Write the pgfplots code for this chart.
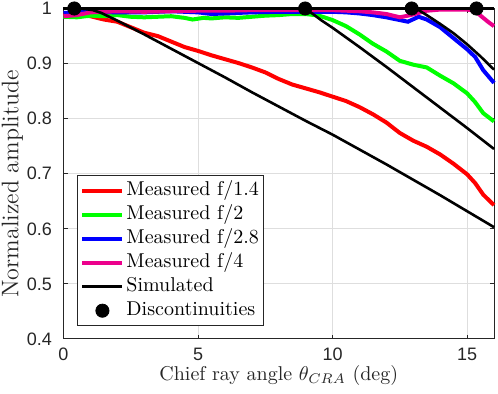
\documentclass[border=0pt]{standalone}
\usepackage{fontspec}
\usepackage{pgfplots}
\pgfplotsset{compat=1.18}
\newfontfamily\ticksans{Liberation Sans}
\definecolor{axgray}{rgb}{0.15,0.15,0.15}
\definecolor{gridgray}{rgb}{0.87,0.87,0.87}
\begin{document}
\begin{tikzpicture}
\begin{axis}[
  scale only axis, width=215.25pt, height=165.25pt,
  xmin=0, xmax=16, ymin=0.4, ymax=1,
  xtick={0,5,10,15}, xticklabels={0,5,10,15},
  ytick={0.4,0.5,0.6,0.7,0.8,0.9,1}, yticklabels={0.4,0.5,0.6,0.7,0.8,0.9,1},
  tick label style={font=\ticksans\fontsize{9}{10}\selectfont, text=axgray},
  yticklabel style={xshift=-2.3pt},
  xticklabel style={yshift=-2.5pt, inner sep=2pt},
  tick align=inside, major tick length=2.2pt,
  axis line style={axgray, line width=0.5pt},
  every tick/.style={axgray, line width=0.5pt},
  grid=major, major grid style={gridgray, line width=0.5pt},
  xlabel={Chief ray angle $\theta_{CRA}$ (deg)},
  ylabel={Normalized amplitude},
  xlabel style={at={([yshift=-21pt]axis description cs:0.5,0)}, anchor=base, text=axgray, inner sep=1pt},
  ylabel style={at={([xshift=-22.5pt,yshift=-5pt]axis description cs:0,0.5)}, anchor=base, text=axgray, font=\fontsize{12}{14}\selectfont},
  clip=false,
  legend cell align=left,
  legend style={at={(axis description cs:0.0314,0.039)}, anchor=south west,
    draw=axgray, fill=white, font=\fontsize{10}{12}\selectfont,
    row sep=0pt, inner sep=1.5pt,
    nodes={inner sep=1pt, text height=7.5pt, text depth=2.5pt}},
  legend image code/.code={\draw[mark repeat=2,mark phase=2,#1] plot coordinates {(0pt,0pt) (10pt,0pt) (20pt,0pt)};},
]
\coordinate (BL) at (rel axis cs:0,0);
\coordinate (TR) at (rel axis cs:1,1);

\addplot[red, line width=2pt] coordinates {
(0,0.991) (0.5,0.989) (1.0,0.986) (1.5,0.980) (2.0,0.976) (2.5,0.966)
(3.0,0.956) (3.5,0.950) (4.0,0.940) (4.5,0.930) (5.0,0.923) (5.5,0.915)
(6.0,0.908) (6.5,0.901) (7.0,0.893) (7.5,0.884) (8.0,0.872) (8.5,0.862)
(9.0,0.855) (9.5,0.848) (10.0,0.840) (10.5,0.832) (11.0,0.821) (11.5,0.808)
(12.0,0.793) (12.5,0.774) (13.0,0.760) (13.5,0.749) (14.0,0.735) (14.5,0.718)
(15.0,0.699) (15.3,0.683) (15.6,0.662) (16.0,0.643)};
\addlegendentry{Measured f/1.4}

\addplot[green, line width=2pt] coordinates {
(0,0.985) (0.5,0.984) (1,0.987) (1.5,0.986) (2,0.988) (2.5,0.985) (3,0.984)
(3.5,0.985) (4,0.986) (4.5,0.983) (4.8,0.980) (5.2,0.983) (5.5,0.982) (6,0.984)
(6.5,0.983) (7,0.985) (7.5,0.987) (8,0.988) (8.5,0.990) (9,0.990) (9.5,0.987)
(10,0.979) (10.5,0.968) (11,0.953) (11.5,0.936) (12,0.922) (12.5,0.905)
(13,0.898) (13.5,0.893) (14,0.878) (14.5,0.864) (15,0.846) (15.3,0.830)
(15.6,0.810) (16,0.795)};
\addlegendentry{Measured f/2}

\addplot[blue, line width=2pt] coordinates {
(0,0.992) (1,0.994) (2,0.993) (3,0.993) (4,0.995) (5,0.993) (5.5,0.990) (6,0.991)
(7,0.993) (8,0.994) (9,0.994) (10,0.994) (10.5,0.993) (11,0.991) (11.5,0.988)
(12,0.984) (12.5,0.979) (12.8,0.976) (13.2,0.985) (13.5,0.980) (14,0.966)
(14.5,0.946) (15,0.926) (15.3,0.912) (15.6,0.888) (16,0.865)};
\addlegendentry{Measured f/2.8}

\addplot[magenta, line width=2pt] coordinates {
(0,0.986) (0.5,0.988) (1,0.993) (2,0.995) (3,0.994) (4,0.995) (5,0.996) (6,0.996)
(7,0.997) (8,0.997) (9,0.997) (10,0.997) (11,0.995) (11.5,0.993) (12,0.990)
(12.5,0.984) (12.9,0.988) (13.5,0.996) (14,0.998) (15,0.998) (15.3,0.996)
(15.5,0.987) (15.8,0.975) (16,0.968)};
\addlegendentry{Measured f/4}

\addplot[black, line width=1.3pt] coordinates {
(0,1) (0.4,1) (0.8,0.999) (1.1,0.997) (1.4,0.992) (1.7,0.985) (2,0.978)
(3,0.953) (4,0.927) (5,0.901) (6,0.875) (7,0.848) (8,0.822) (9,0.796)
(10,0.771) (11,0.744) (12,0.717) (13,0.689) (14,0.661) (15,0.632) (16,0.603)};
\addlegendentry{Simulated}

\addplot[black, line width=1.3pt, forget plot] coordinates {
(0,1) (8.98,1) (9.3,0.989) (9.6,0.978) (10,0.965) (11,0.930) (12,0.894)
(13,0.857) (14,0.820) (15,0.783) (16,0.745)};
\addplot[black, line width=1.3pt, forget plot] coordinates {
(0,1) (12.94,1) (13.2,0.997) (13.5,0.988) (14,0.972) (14.5,0.955) (15,0.935)
(15.5,0.913) (16,0.889)};
\addplot[black, line width=1.3pt, forget plot] coordinates {
(0,1) (15.35,1) (16,1)};

\addplot[only marks, mark=*, mark size=3.3pt, black] coordinates {
(0.4,1) (8.98,1) (12.94,1) (15.35,1)};
\addlegendentry{Discontinuities}
\end{axis}
\pgfresetboundingbox
\path[use as bounding box] ([shift={(-31.75pt,-27.5pt)}]BL) rectangle ([shift={(2pt,4.25pt)}]TR);
\end{tikzpicture}
\end{document}
